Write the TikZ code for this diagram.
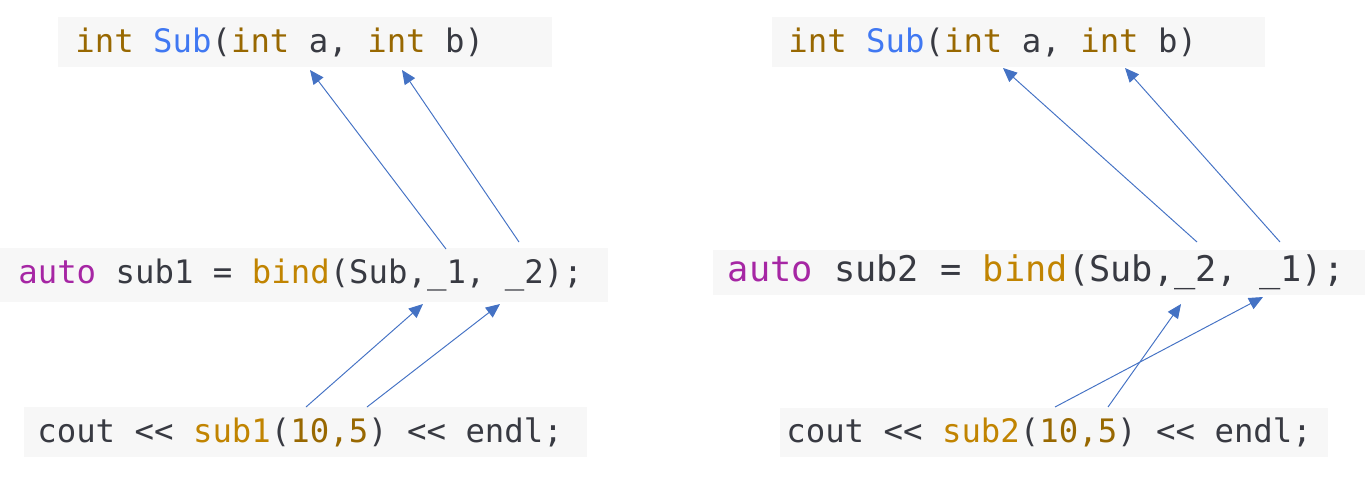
\documentclass[tikz,border=0pt]{standalone}
\usepackage{fontspec}
\setmonofont{DejaVu Sans Mono}
\usepackage{xcolor}
\usepackage{tikz}
\usetikzlibrary{arrows.meta}
\definecolor{codebg}{HTML}{F7F7F7}
\definecolor{codetxt}{HTML}{383A42}
\definecolor{codekey}{HTML}{A626A4}
\definecolor{codefun}{HTML}{4078F2}
\definecolor{codetype}{HTML}{C18401}
\definecolor{codenum}{HTML}{986801}
\definecolor{arrowblue}{HTML}{4472C4}
\newcommand{\ckey}[1]{\textcolor{codekey}{#1}}
\newcommand{\cfun}[1]{\textcolor{codefun}{#1}}
\newcommand{\ctype}[1]{\textcolor{codetype}{#1}}
\newcommand{\cnum}[1]{\textcolor{codenum}{#1}}
\newcommand{\fixspace}{\fontdimen2\font=\fontcharwd\font`\a
  \fontdimen3\font=0pt \fontdimen4\font=0pt\relax}
\tikzset{
  codebox/.style={fill=codebg,anchor=west,align=flush left,inner ysep=0pt,
    text=codetxt,font=\ttfamily\fontsize{18.4}{20}\selectfont\fixspace},
  bigcode/.style={codebox,font=\ttfamily\fontsize{20.1}{22}\selectfont\fixspace},
  maparrow/.style={-{Triangle[length=8pt,width=7pt]},line width=0.55pt,arrowblue},
}

\begin{document}
\begin{tikzpicture}[x=0.02cm,y=-0.02cm]
  \useasboundingbox (0,0) rectangle (1365,481);
  % left: sub1
  \node[codebox,minimum height=1cm,inner xsep=0.34cm,text width=9.2cm] (sigL) at (58,42)
    {\cnum{int} \cfun{Sub}(\cnum{int} a, \cnum{int} b)};
  \node[codebox,minimum height=1.08cm,inner xsep=0.36cm,text width=11.44cm] (bindL) at (0,275)
    {\ckey{auto} sub1 = \ctype{bind}(Sub,\_1, \_2);};
  \node[codebox,minimum height=1cm,inner xsep=0.26cm,text width=10.74cm] (callL) at (24,432)
    {cout << \ctype{sub1}(\cnum{10,5}) << endl;};
  % right: sub2
  \node[codebox,minimum height=1cm,inner xsep=0.32cm,text width=9.22cm] (sigR) at (772,42)
    {\cnum{int} \cfun{Sub}(\cnum{int} a, \cnum{int} b)};
  \node[bigcode,minimum height=0.9cm,inner xsep=0.29cm,text width=12.46cm] (bindR) at (713,272.5)
    {\ckey{auto} sub2 = \ctype{bind}(Sub,\_2, \_1);};
  \node[codebox,minimum height=0.98cm,inner xsep=0.12cm,text width=10.72cm] (callR) at (780,432.5)
    {cout << \ctype{sub2}(\cnum{10,5}) << endl;};
  % arrow ends
  \coordinate (la) at (310,70);
  \coordinate (lb) at (402,70);
  \coordinate (lone) at (446,249);
  \coordinate (ltwo) at (519,242);
  \coordinate (lonein) at (423,304);
  \coordinate (ltwoin) at (500,304);
  \coordinate (lten) at (306,407);
  \coordinate (lfive) at (367,407);
  \coordinate (ra) at (1003,68);
  \coordinate (rb) at (1125,68);
  \coordinate (rtwo) at (1197,242);
  \coordinate (rone) at (1280,242);
  \coordinate (rtwoin) at (1181,304);
  \coordinate (ronein) at (1263,297);
  \coordinate (rten) at (1055,407);
  \coordinate (rfive) at (1108,407);
  \draw[maparrow] (lone) -- (la);
  \draw[maparrow] (ltwo) -- (lb);
  \draw[maparrow] (lten) -- (lonein);
  \draw[maparrow] (lfive) -- (ltwoin);
  \draw[maparrow] (rtwo) -- (ra);
  \draw[maparrow] (rone) -- (rb);
  \draw[maparrow] (rfive) -- (rtwoin);
  \draw[maparrow] (rten) -- (ronein);
\end{tikzpicture}
\end{document}
